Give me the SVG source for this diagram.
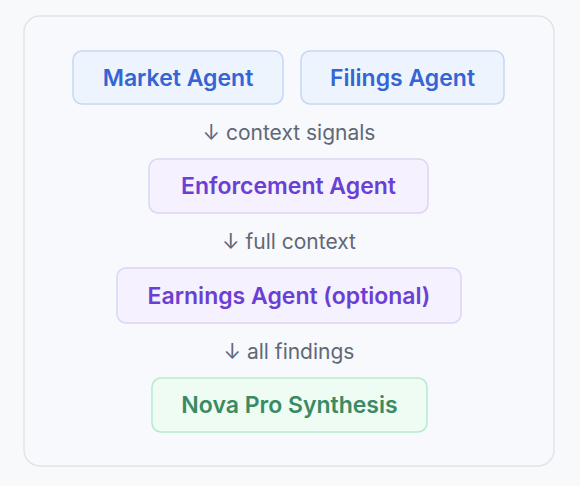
<svg xmlns="http://www.w3.org/2000/svg" width="580" height="486" viewBox="0 0 580 486">
<style>
.n{font-family:Inter,"Noto Sans","Liberation Sans",sans-serif;font-size:23px;font-weight:600;text-anchor:middle;dominant-baseline:central}
.l{font-family:Inter,"Noto Sans","Liberation Sans",sans-serif;font-size:21px;fill:#5f6877;text-anchor:middle;dominant-baseline:central}
.b rect{fill:#edf4fe;stroke:#c3d8f5;stroke-width:1.5}
.b text{fill:#3564d4}
.p rect{fill:#f5f1fe;stroke:#ddd4f6;stroke-width:1.5}
.p text{fill:#6b3fd4}
.g rect{fill:#eefcf4;stroke:#b6ead0;stroke-width:1.5}
.g text{fill:#3a8a63}
</style>
<rect width="580" height="486" fill="#f8f9fb"/>
<rect x="24" y="16" width="530" height="450" rx="16" fill="#f8f9fc" stroke="#e1e3ea" stroke-width="1.5"/>
<g id="market" class="b"><rect x="73" y="51" width="210" height="53" rx="9"/><text class="n" x="178" y="77.5">Market Agent</text></g>
<g id="filings" class="b"><rect x="301" y="51" width="203" height="53" rx="9"/><text class="n" x="402.5" y="77.5">Filings Agent</text></g>
<g id="enforcement" class="p"><rect x="149" y="159" width="279" height="54" rx="9"/><text class="n" x="288.5" y="186">Enforcement Agent</text></g>
<g id="earnings" class="p"><rect x="117" y="268" width="344" height="55" rx="9"/><text class="n" x="289" y="295.5">Earnings Agent (optional)</text></g>
<g id="nova" class="g"><rect x="152" y="378" width="275" height="54" rx="9"/><text class="n" x="289.5" y="405">Nova Pro Synthesis</text></g>
<g id="connectors">
<text class="l" x="289" y="132">↓ context signals</text>
<text class="l" x="289" y="241">↓ full context</text>
<text class="l" x="289" y="351">↓ all findings</text>
</g>
</svg>
